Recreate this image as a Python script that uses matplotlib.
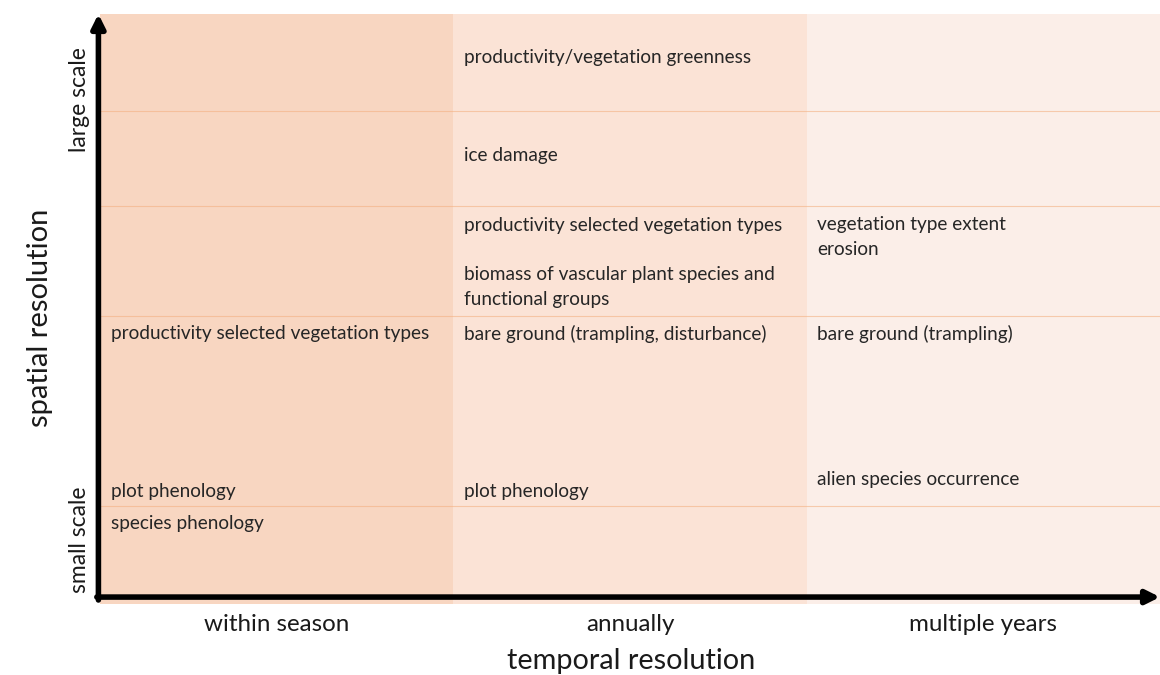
import matplotlib.pyplot as plt
from matplotlib.patches import Rectangle

plt.rcParams['font.family'] = ['Lato', 'DejaVu Sans']

# columns of the diagram (temporal resolution)
columns = ['within season', 'annually', 'multiple years']
col_colors = ['#f8d6c1', '#fbe3d6', '#fbeee8']

# row borders (spatial resolution, 0 = small scale, 586 = large scale)
row_lines = [94, 284, 394, 489]

# indicators per column: (text, height in spatial units)
within_season = [
    ('productivity selected vegetation types', 266),
    ('plot phenology', 109),
    ('species phenology', 76),
]
annually = [
    ('productivity/vegetation greenness', 542),
    ('ice damage', 445),
    ('productivity selected vegetation types', 375),
    ('biomass of vascular plant species and\nfunctional groups', 313),
    ('bare ground (trampling, disturbance)', 266),
    ('plot phenology', 109),
]
multiple_years = [
    ('vegetation type extent\nerosion', 363),
    ('bare ground (trampling)', 266),
    ('alien species occurrence', 121),
]
items = [within_season, annually, multiple_years]

fig = plt.figure(figsize=(11.6, 6.75), dpi=100)
ax = fig.add_axes([100 / 1160, 75 / 675, 1060 / 1160, 586 / 675])
ax.set_xlim(0, 3)
ax.set_ylim(0, 586)
ax.axis('off')

for i, c in enumerate(col_colors):
    ax.add_patch(Rectangle((i, -4), 1, 590, facecolor=c, edgecolor='none', clip_on=False))
for y in row_lines:
    ax.axhline(y, color='#f4b183', lw=0.8, alpha=0.6)

for i, col in enumerate(items):
    for txt, y in col:
        ax.text(i + 0.03, y, txt, fontsize=13.7, color='#262626', va='center',
                linespacing=1.6)
    ax.text(i + 0.5, -14, columns[i], fontsize=17.4, color='#1a1a1a',
            ha='center', va='top')

# axis arrows
ax.annotate('', xy=(1.0, 0.005), xytext=(-0.003, 0.005), xycoords='axes fraction',
            arrowprops=dict(arrowstyle='-|>,head_length=0.8,head_width=0.4', lw=4,
                            color='black', shrinkA=0, shrinkB=0))
ax.annotate('', xy=(-0.0015, 1.0), xytext=(-0.0015, 0.0), xycoords='axes fraction',
            arrowprops=dict(arrowstyle='-|>,head_length=0.8,head_width=0.4', lw=4,
                            color='black', shrinkA=0, shrinkB=0))

fig.text(631 / 1160, 1 - 661 / 675, 'temporal resolution', fontsize=20.8,
         ha='center', va='center', color='#1a1a1a')
fig.text(40 / 1160, 1 - 318 / 675, 'spatial resolution', fontsize=21,
         ha='center', va='center', rotation=90, color='#1a1a1a')
fig.text(79 / 1160, 1 - 100 / 675, 'large scale', fontsize=16.5,
         ha='center', va='center', rotation=90, color='#1a1a1a')
fig.text(79 / 1160, 1 - 540 / 675, 'small scale', fontsize=16.5,
         ha='center', va='center', rotation=90, color='#1a1a1a')

fig.savefig('out.png', dpi=100)
